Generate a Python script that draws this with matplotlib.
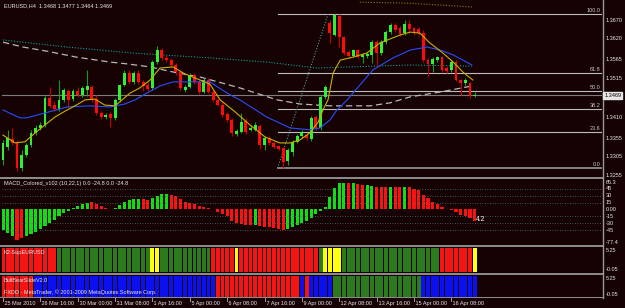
import matplotlib
matplotlib.use('Agg')
import matplotlib.pyplot as plt
from matplotlib import transforms

# EURUSD H4, bar 0 = 25 Mar 2010, one entry per 4h bar
opens = [1.3297, 1.3331, 1.3353, 1.3342, 1.3275, 1.3310, 1.3337, 1.3369, 1.3382, 1.3390,
         1.3462, 1.3443, 1.3433, 1.3457, 1.3481, 1.3459, 1.3481, 1.3470, 1.3483, 1.3491,
         1.3459, 1.3422, 1.3411, 1.3419, 1.3409, 1.3457, 1.3497, 1.3529, 1.3505, 1.3529,
         1.3505, 1.3497, 1.3489, 1.3558, 1.3590, 1.3569, 1.3563, 1.3550, 1.3531, 1.3483,
         1.3491, 1.3523, 1.3505, 1.3478, 1.3510, 1.3478, 1.3457, 1.3443, 1.3419, 1.3403,
         1.3366, 1.3371, 1.3401, 1.3377, 1.3377, 1.3387, 1.3337, 1.3355, 1.3342, 1.3334,
         1.3329, 1.3294, 1.3318, 1.3345, 1.3361, 1.3363, 1.3353, 1.3411, 1.3382, 1.3465,
         1.3662, 1.3630, 1.3681, 1.3625, 1.3585, 1.3574, 1.3590, 1.3571, 1.3574, 1.3577,
         1.3611, 1.3582, 1.3611, 1.3638, 1.3657, 1.3649, 1.3635, 1.3659, 1.3649, 1.3646,
         1.3635, 1.3563, 1.3553, 1.3563, 1.3571, 1.3542, 1.3537, 1.3558, 1.3510, 1.3502,
         1.3502, 1.3468]
highs = [1.3350, 1.3377, 1.3382, 1.3350, 1.3323, 1.3342, 1.3377, 1.3390, 1.3398, 1.3467,
         1.3491, 1.3454, 1.3510, 1.3489, 1.3486, 1.3486, 1.3491, 1.3494, 1.3537, 1.3497,
         1.3470, 1.3427, 1.3422, 1.3425, 1.3462, 1.3499, 1.3537, 1.3537, 1.3534, 1.3537,
         1.3510, 1.3505, 1.3563, 1.3601, 1.3595, 1.3577, 1.3569, 1.3555, 1.3537, 1.3497,
         1.3529, 1.3529, 1.3510, 1.3515, 1.3515, 1.3483, 1.3462, 1.3451, 1.3425, 1.3409,
         1.3379, 1.3422, 1.3409, 1.3390, 1.3398, 1.3393, 1.3361, 1.3361, 1.3347, 1.3337,
         1.3331, 1.3329, 1.3350, 1.3366, 1.3377, 1.3369, 1.3414, 1.3417, 1.3470, 1.3497,
         1.3670, 1.3686, 1.3686, 1.3627, 1.3590, 1.3593, 1.3593, 1.3582, 1.3585, 1.3617,
         1.3617, 1.3617, 1.3643, 1.3662, 1.3662, 1.3654, 1.3670, 1.3670, 1.3651, 1.3651,
         1.3643, 1.3569, 1.3571, 1.3574, 1.3574, 1.3547, 1.3563, 1.3563, 1.3513, 1.3515,
         1.3505, 1.3477]
lows = [1.3283, 1.3323, 1.3337, 1.3267, 1.3267, 1.3305, 1.3331, 1.3363, 1.3377, 1.3385,
        1.3435, 1.3427, 1.3427, 1.3451, 1.3438, 1.3454, 1.3465, 1.3465, 1.3467, 1.3451,
        1.3417, 1.3406, 1.3406, 1.3385, 1.3403, 1.3451, 1.3494, 1.3499, 1.3499, 1.3499,
        1.3481, 1.3481, 1.3483, 1.3553, 1.3563, 1.3558, 1.3545, 1.3523, 1.3483, 1.3478,
        1.3489, 1.3499, 1.3473, 1.3475, 1.3475, 1.3451, 1.3441, 1.3411, 1.3398, 1.3361,
        1.3361, 1.3369, 1.3366, 1.3374, 1.3374, 1.3326, 1.3323, 1.3337, 1.3329, 1.3323,
        1.3275, 1.3283, 1.3307, 1.3342, 1.3355, 1.3350, 1.3347, 1.3377, 1.3377, 1.3459,
        1.3609, 1.3627, 1.3598, 1.3577, 1.3569, 1.3571, 1.3569, 1.3555, 1.3569, 1.3555,
        1.3547, 1.3577, 1.3606, 1.3633, 1.3638, 1.3627, 1.3630, 1.3635, 1.3630, 1.3630,
        1.3558, 1.3518, 1.3531, 1.3558, 1.3531, 1.3529, 1.3531, 1.3507, 1.3470, 1.3494,
        1.3462, 1.3464]
closes = [1.3342, 1.3355, 1.3342, 1.3275, 1.3310, 1.3337, 1.3369, 1.3382, 1.3390, 1.3462,
          1.3441, 1.3433, 1.3457, 1.3483, 1.3457, 1.3481, 1.3470, 1.3489, 1.3494, 1.3457,
          1.3422, 1.3411, 1.3417, 1.3409, 1.3457, 1.3497, 1.3529, 1.3505, 1.3529, 1.3505,
          1.3494, 1.3486, 1.3558, 1.3590, 1.3569, 1.3563, 1.3550, 1.3531, 1.3489, 1.3491,
          1.3523, 1.3505, 1.3478, 1.3510, 1.3478, 1.3457, 1.3443, 1.3417, 1.3403, 1.3369,
          1.3374, 1.3398, 1.3371, 1.3382, 1.3390, 1.3337, 1.3355, 1.3342, 1.3331, 1.3326,
          1.3291, 1.3323, 1.3345, 1.3361, 1.3371, 1.3355, 1.3409, 1.3382, 1.3465, 1.3491,
          1.3635, 1.3683, 1.3625, 1.3582, 1.3574, 1.3590, 1.3571, 1.3577, 1.3579, 1.3611,
          1.3582, 1.3611, 1.3638, 1.3657, 1.3643, 1.3633, 1.3659, 1.3646, 1.3638, 1.3635,
          1.3563, 1.3553, 1.3566, 1.3571, 1.3537, 1.3534, 1.3558, 1.3510, 1.3502, 1.3510,
          1.3467, 1.3469]

# moving averages (bar position, price)
ma_fast_x = [0, 2.6, 4.7, 6.9, 9.0, 11.1, 13.3, 15.4, 17.6, 19.7, 21.8, 24.0, 25.5, 27.2,
             29.3, 31.5, 33.6, 36.4, 39.0, 42.2, 44.3, 46.5, 49.7, 52.9, 56.1, 59.3, 61.5,
             63.6, 65.7, 67.5, 68.5, 69.6, 70.7, 72.2, 74.9, 77.9, 80.7, 85.0, 87.2, 89.3,
             91.4, 94.2, 96.4, 98.5, 100.6]
ma_fast_y = [1.3363, 1.3342, 1.3345, 1.3369, 1.3390, 1.3411, 1.3427, 1.3441, 1.3457, 1.3459,
             1.3443, 1.3441, 1.3457, 1.3475, 1.3489, 1.3510, 1.3542, 1.3545, 1.3526, 1.3510,
             1.3499, 1.3457, 1.3425, 1.3390, 1.3358, 1.3342, 1.3342, 1.3350, 1.3369, 1.3398,
             1.3430, 1.3457, 1.3529, 1.3563, 1.3571, 1.3582, 1.3609, 1.3630, 1.3638, 1.3635,
             1.3609, 1.3582, 1.3558, 1.3531, 1.3510]
ma_mid_x = [0, 3.6, 5.1, 9.0, 13.7, 18.6, 22.9, 26.1, 28.3, 30.8, 33.6, 36.4, 40.0, 44.3,
            48.0, 50.7, 56.5, 61.5, 65.7, 67.9, 70.0, 71.5, 73.7, 79.2, 83.5, 87.2, 90.8,
            93.6, 96.4, 98.5, 100.4]
ma_mid_y = [1.3430, 1.3409, 1.3409, 1.3422, 1.3438, 1.3441, 1.3438, 1.3446, 1.3457, 1.3475,
            1.3494, 1.3505, 1.3505, 1.3505, 1.3475, 1.3457, 1.3411, 1.3382, 1.3377, 1.3382,
            1.3403, 1.3430, 1.3457, 1.3537, 1.3569, 1.3590, 1.3598, 1.3590, 1.3577, 1.3563,
            1.3550]
ma_teal_x = [0, 13.7, 27.8, 44.3, 56.5, 67.2, 74.3, 87.2, 100.4]
ma_teal_y = [1.3617, 1.3598, 1.3582, 1.3569, 1.3558, 1.3542, 1.3545, 1.3550, 1.3547]
ma_slow_x = [0, 4.3, 9.4, 15.8, 22.9, 26.6, 31.5, 37.3, 42.2, 50.7, 58.7, 63.6, 70.0, 78.6,
             82.9, 87.2, 93.6, 100.4]
ma_slow_y = [1.3611, 1.3598, 1.3587, 1.3571, 1.3558, 1.3553, 1.3545, 1.3529, 1.3518, 1.3489,
             1.3457, 1.3446, 1.3441, 1.3441, 1.3449, 1.3465, 1.3478, 1.3494]
ma_top_x = [76.4, 87.2, 100.4]
ma_top_y = [1.3718, 1.3715, 1.3705]

# fibonacci retracement
fibo_low, fibo_high = 1.3275, 1.3686
fibo_start, fibo_end = 58.8, 69.6
fibo_levels = [0.0, 23.6, 38.2, 50.0, 61.8, 100.0]
bid = 1.3469

price_ticks = [1.3670, 1.3620, 1.3565, 1.3515, 1.3410, 1.3355, 1.3305, 1.3255]

# MACD_Colored histogram
macd = [-45, -52, -57, -66, -63, -57, -53, -48, -42, -36,
        -29, -22, -15, -8, -3, 3, 8, 12, 15, 16,
        12, 7, 3, 2, 4, 10, 16, 20, 22, 23,
        22, 21, 26, 30, 33, 34, 32, 29, 22, 16,
        14, 12, 8, 5, 3, 1, -5, -10, -15, -26,
        -29, -31, -33, -34, -34, -37, -38, -39, -41, -43,
        -44, -42, -38, -34, -30, -25, -18, -10, -3, 6,
        28, 47, 57, 58, 58, 58, 55, 53, 53, 51,
        48, 48, 48, 50, 48, 48, 50, 48, 44, 42,
        31, 24, 17, 11, 6, 1, -2, -6, -11, -15,
        -19, -24.8]
macd_col = ('gggrrggggg' 'gggggggggr' 'rrrrgggggg' 'rrggggrrrr' 'rrrrrrrrrr'
            'rrrrgrrrrr' 'rggggggggg' 'ggggrgrrgg' 'rrrgrrgrrr' 'rrrrrrrrrr' 'rr')
macd_levels = [45, 30, 15, -15, -30, -45]
macd_ticks = [45, 30, 15, 0, -15, -30, -45]

# per-bar state of the two signal panels: r=red, g=green, y=yellow, b=blue
k2_states = ('rrrrrrrrrr' 'rrgggggggg' 'gggggggggg' 'ggyygggggg' 'gggggrrrrr'
             'yrrrrrrrrr' 'rrrrrrrrgy' 'yyyggggggg' 'gggggggggg' 'ggggrrrrrr' 'ry')
bb_states = ('rrrrrrrbbb' 'bbbbbbbbbb' 'bbbbbbbbbb' 'bbbbbbbbbb' 'bbbbbbrrrr'
             'rrrrrrrrrr' 'rrrrbrbbbb' 'bggggggggg' 'gggggggggg' 'bbbbbbbbbb' 'bb')

time_bars = [0, 8, 16, 24, 32, 40, 48, 56, 64, 72, 80, 88, 96]
time_labels = ['25 Mar 2010', '26 Mar 16:00', '30 Mar 00:00', '31 Mar 08:00',
               '1 Apr 16:00', '5 Apr 00:00', '6 Apr 08:00', '7 Apr 16:00',
               '9 Apr 00:00', '12 Apr 08:00', '13 Apr 16:00', '15 Apr 00:00',
               '16 Apr 08:00']

W, H = 625, 308
BG = '#160203'
TXT = '#e8e8e8'
FONT = ['Liberation Sans Narrow', 'Liberation Sans', 'DejaVu Sans']
FS = 4.0
PX_BAR0, PX_STEP = 3.0, 4.67       # pixel of bar 0 and bar spacing
PLOT_L, PLOT_R = 2, 602
xlim = ((PLOT_L - PX_BAR0) / PX_STEP, (PLOT_R - PX_BAR0) / PX_STEP)

plt.rcParams['font.family'] = FONT
fig = plt.figure(figsize=(W / 100, H / 100), dpi=100)
fig.patch.set_facecolor(BG)

over = fig.add_axes([0, 0, 1, 1])
over.set_xlim(0, W)
over.set_ylim(H, 0)
over.set_axis_off()


def px_axes(x0, y0, x1, y1):
    a = fig.add_axes([x0 / W, 1 - y1 / H, (x1 - x0) / W, (y1 - y0) / H])
    a.set_axis_off()
    a.set_xlim(*xlim)
    return a


# ---------- main price panel ----------
ax = px_axes(PLOT_L, 1, PLOT_R, 177)
ax.set_ylim(1.3251, 1.3721)
bars = list(range(len(opens)))
for i in bars:
    o, h, l, c = opens[i], highs[i], lows[i], closes[i]
    up = c >= o
    ax.vlines(i, l, h, color='#1f9a1f' if up else '#c00000', lw=0.8, zorder=3)
    ax.bar(i, max(abs(c - o), 0.00025), bottom=min(o, c), width=0.62,
           color='#30f030' if up else '#ff0a0a', zorder=4)

ax.plot(ma_top_x, ma_top_y, color='#8a7a10', lw=0.8, ls=(0, (1, 1.5)), zorder=2)
ax.plot(ma_teal_x, ma_teal_y, color='#10a0a0', lw=0.8, ls=(0, (1, 1.5)), zorder=2)
ax.plot(ma_slow_x, ma_slow_y, color='#b8b8b8', lw=0.9, ls=(0, (5, 3)), zorder=2)
ax.plot(ma_mid_x, ma_mid_y, color='#2a4cff', lw=0.8, zorder=5)
ax.plot(ma_fast_x, ma_fast_y, color='#c8b000', lw=0.8, zorder=5)

ax.axhline(bid, color='#7c7c7c', lw=0.8, zorder=1)
rng = fibo_high - fibo_low
for lv in fibo_levels:
    p = fibo_low + rng * lv / 100
    ax.plot([fibo_start, xlim[1]], [p, p], color='#8c8c8c' if lv == 0 else '#bcbcbc',
            lw=1.3 if lv == 0 else 0.8, zorder=1)
    ax.text(xlim[1] - 0.4, p + 0.0002, f'{lv:.1f}', color='#c8c8c8', fontsize=FS,
            ha='right', va='bottom')
ax.plot([fibo_start, fibo_end], [fibo_low, fibo_high], color='#4f9a86', lw=0.8,
        ls=(0, (1, 1.5)), zorder=2)

tr = transforms.blended_transform_factory(ax.transAxes, ax.transData)
for p in price_ticks:
    ax.text(1.0058, p, f'{p:.4f}', transform=tr, color=TXT, fontsize=FS, va='center')
ax.text(1.0035, bid, f'{bid:.4f}', transform=tr, color='black', fontsize=FS, va='center',
        bbox=dict(boxstyle='square,pad=0.2', fc='#e6e6e6', ec='#e6e6e6'))
ax.text(0.003, 0.985, 'EURUSD,H4  1.3468 1.3477 1.3464 1.3469', transform=ax.transAxes,
        color=TXT, fontsize=FS, va='top')

# ---------- MACD panel ----------
am = px_axes(PLOT_L, 179.5, PLOT_R, 245)
am.set_ylim(-77.4, 65.3)
for lv in macd_levels:
    am.axhline(lv, color='#4e7474', lw=0.6, ls=(0, (1, 2)))
am.bar(bars, macd, width=0.66, color=['#10e010' if c == 'g' else '#ff1010' for c in macd_col])
am.text(0.003, 0.97, 'MACD_Colored_v102 (10,22,1) 0.0 -24.8 0.0 -24.8', transform=am.transAxes,
        color=TXT, fontsize=FS, va='top')
am.text(bars[-1] + 0.3, macd[-1] + 4, '4.2', color='white', fontsize=FS + 0.8, va='center')
trm = transforms.blended_transform_factory(am.transAxes, am.transData)
for v in macd_ticks:
    am.text(1.0058, v, '0.00' if v == 0 else f'{v}', transform=trm, color=TXT, fontsize=FS,
            va='center')
am.text(1.0058, 65.3, '65.3', transform=trm, color=TXT, fontsize=FS, va='top')
am.text(1.0058, -77.4, '-77.4', transform=trm, color=TXT, fontsize=FS, va='bottom')

# ---------- state panels ----------
state_col = {'r': '#f41414', 'g': '#2c7a1e', 'y': '#ffff10', 'b': '#0c10f0'}
ak = px_axes(PLOT_L, 248, PLOT_R, 272)
ak.set_ylim(0, 1)
ak.bar(bars, [1] * len(bars), width=0.84, bottom=0, color=[state_col[s] for s in k2_states])
ak.text(0.003, 0.8, 'K2-SupEURUSD', transform=ak.transAxes, color=TXT, fontsize=FS, va='center')

ab = px_axes(PLOT_L, 276, PLOT_R, 297)
ab.set_ylim(0, 1)
ab.bar(bars, [1] * len(bars), width=0.84, bottom=0, color=[state_col[s] for s in bb_states])
ab.text(0.003, 0.8, 'BullBearSlideV2.0', transform=ab.transAxes, color=TXT, fontsize=FS,
        va='center')
ab.text(0.003, 0.25, 'FXDD - MetaTrader, \u00a9 2001-2009 MetaQuotes Software Corp.',
        transform=ab.transAxes, color=TXT, fontsize=FS, va='center')
for a in (ak, ab):
    a.text(1.0058, 0.88, '5.25', transform=a.transAxes, color=TXT, fontsize=FS, va='center')
    a.text(1.0058, 0.1, '-0.05', transform=a.transAxes, color=TXT, fontsize=FS, va='center')

# ---------- frame / separators ----------
for y0, y1 in [(176.8, 179.3), (244.8, 247.0), (272.6, 275.0), (297.0, 298.4)]:
    over.fill_between([0, PLOT_R + 1], y0, y1, color='#8a8a8a', lw=0)
over.plot([PLOT_R + 0.5, PLOT_R + 0.5], [0, 298], color='#9a9a9a', lw=1.0)

trt = transforms.blended_transform_factory(ab.transData, over.transData)
for b, lab in zip(time_bars, time_labels):
    over.plot([b, b], [298, 301], color='#bbbbbb', lw=0.6, transform=trt)
    over.text(b, 303.5, ' ' + lab, color=TXT, fontsize=FS, va='center', ha='left', transform=trt)

fig.savefig('out.png', dpi=100, facecolor=BG)
